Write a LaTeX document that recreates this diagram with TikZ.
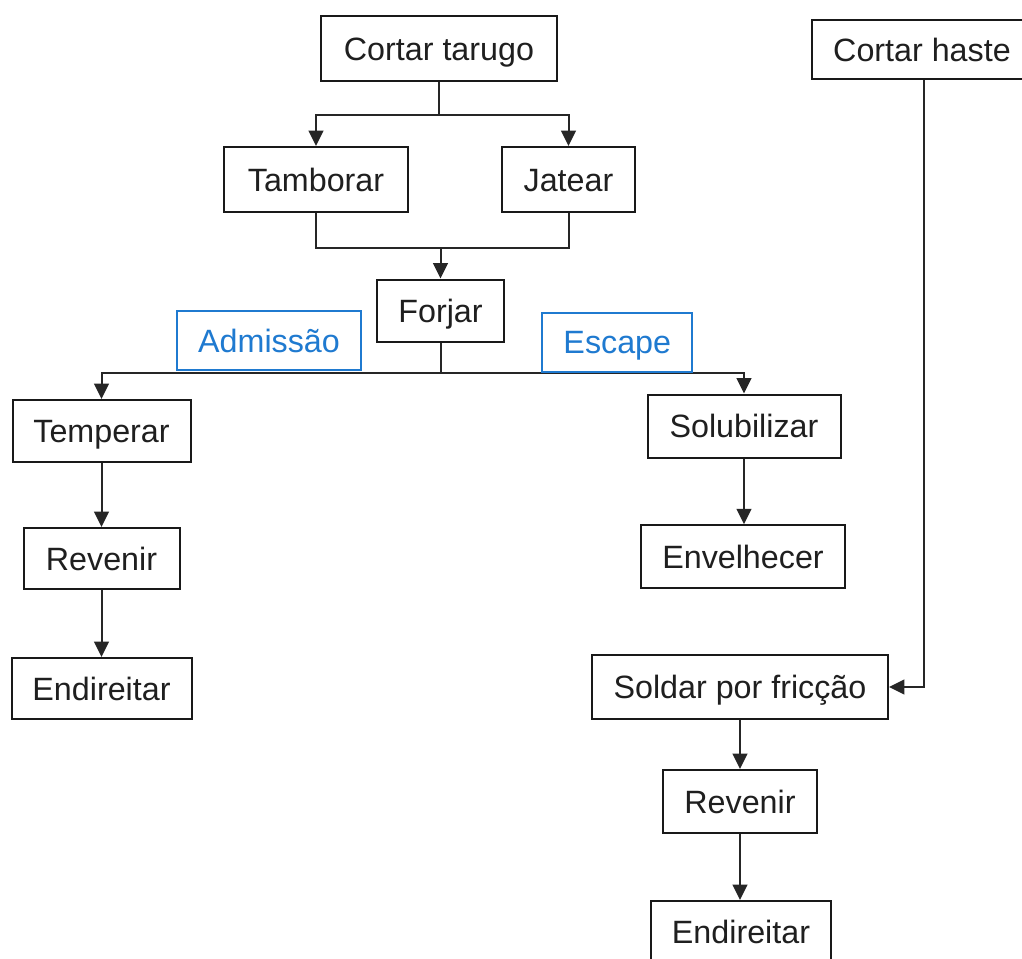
\documentclass[tikz,border=0pt]{standalone}
\usepackage{fontspec}
\setmainfont{Liberation Sans}
\usetikzlibrary{arrows.meta}
\definecolor{tagblue}{RGB}{31,122,208}
\begin{document}
\begin{tikzpicture}[x=0.75pt,y=-0.75pt,
  box/.style={draw=black!90, line width=1.5pt, inner sep=0pt, fill=white,
    font=\fontsize{24.2}{28}\selectfont, text=black!88,
    text height=17.3pt, text depth=0pt},
  tag/.style={box, draw=tagblue, text=tagblue},
  link/.style={line width=1.5pt, draw=black!85},
  arr/.style={link, -{Triangle[width=11pt,length=11.5pt]}}]
\clip (0,0) rectangle (1022,958);
\fill[white] (0,0) rectangle (1022,958);

% process steps
\node[box, minimum width=177pt, minimum height=48.75pt] (tarugo) at (439,48.5) {Cortar tarugo};
\node[box, minimum width=165pt, minimum height=44.25pt] (haste) at (922,49.5) {Cortar haste};
\node[box, minimum width=138pt, minimum height=48.75pt] (tamborar) at (316,179.5) {Tamborar};
\node[box, minimum width=99.75pt, minimum height=48.75pt] (jatear) at (568.5,179.5) {Jatear};
\node[box, minimum width=95.25pt, minimum height=46.5pt] (forjar) at (440.5,310.5) {Forjar};
\node[box, minimum width=133.5pt, minimum height=46.5pt] (temperar) at (101.5,431) {Temperar};
\node[box, minimum width=144.75pt, minimum height=47.25pt] (solub) at (744,426) {Solubilizar};
\node[box, minimum width=153pt, minimum height=47.25pt] (envelh) at (743,556.7) {Envelhecer};
\node[box, minimum width=117pt, minimum height=45.75pt] (revL) at (101.5,558.5) {Revenir};
\node[box, minimum width=135pt, minimum height=45.75pt] (endL) at (101.5,688.5) {Endireitar};
\node[box, minimum width=222pt, minimum height=48pt] (soldar) at (740,687) {Soldar por fricção};
\node[box, minimum width=115.5pt, minimum height=47.25pt] (revR) at (740,801.5) {Revenir};
\node[box, minimum width=135pt, minimum height=46.5pt] (endR) at (741,932) {Endireitar};

% split after cutting
\draw[link] (tarugo.south) -- ++(0,32.5) coordinate (split1);
\draw[arr] (split1) -| (tamborar.north);
\draw[arr] (split1) -| (jatear.north);

% merge before forging
\draw[link] (tamborar.south) -- ++(0,34.5) coordinate (mergeL) -| (jatear.south);
\draw[arr] (mergeL -| forjar.north) -- (forjar.north);

% branch after forging
\draw[link] (forjar.south) -- ++(0,30.5) coordinate (split2);
\draw[arr] (split2) -| (temperar.north);
\draw[arr] (split2) -| (solub.north);

% branch labels
\node[tag, minimum width=138pt, minimum height=44.25pt] (admissao) at (269,340.5) {Admissão};
\node[tag, minimum width=112.5pt, minimum height=44.25pt] (escape) at (617.3,342) {Escape};

% sequential steps
\draw[arr] (temperar) -- (revL);
\draw[arr] (revL) -- (endL);
\draw[arr] (solub.south) -- (solub.south |- envelh.north);
\draw[arr] ([xshift=1.5pt]haste.south) |- (soldar.east);
\draw[arr] (soldar) -- (revR);
\draw[arr] (revR.south) -- (revR.south |- endR.north);
\end{tikzpicture}
\end{document}
